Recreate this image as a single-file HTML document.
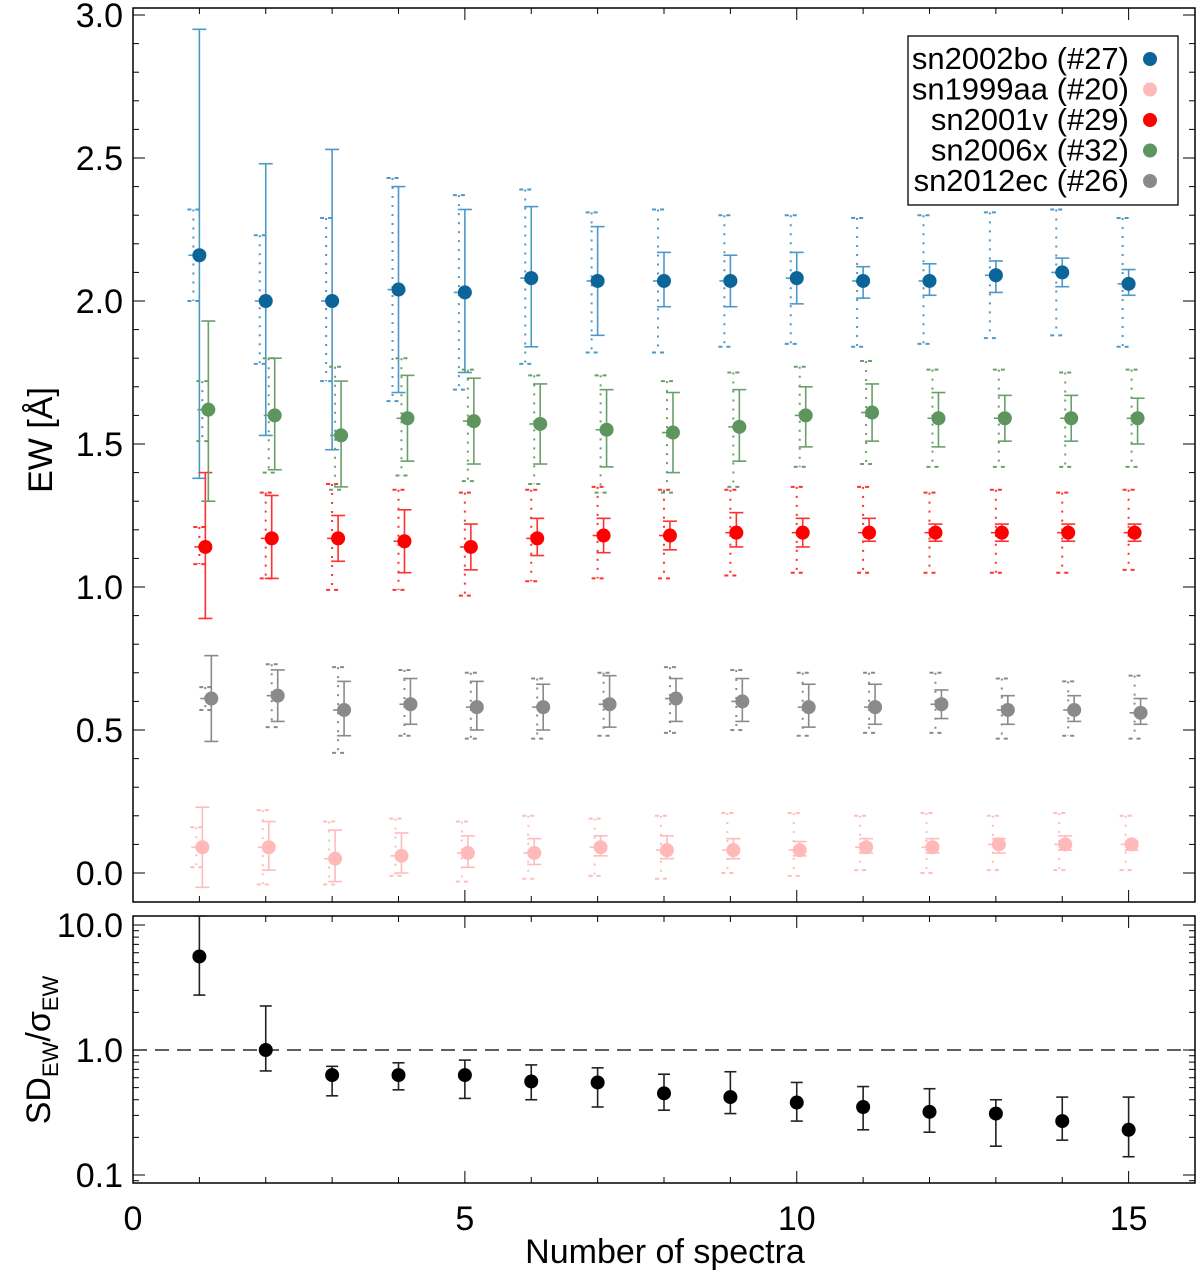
<!DOCTYPE html>
<html><head><meta charset="utf-8"><style>
body{margin:0;background:#fff}
svg{display:block;font-family:"Liberation Sans",sans-serif}
</style></head><body>
<svg id="chart" width="1200" height="1275" viewBox="0 0 1200 1275" xmlns="http://www.w3.org/2000/svg"></svg>
<script>
const N=[1,2,3,4,5,6,7,8,9,10,11,12,13,14,15];
const blueVal=[2.16,2.00,2.00,2.04,2.03,2.08,2.07,2.07,2.07,2.08,2.07,2.07,2.09,2.10,2.06];
const blueHi=[2.95,2.48,2.53,2.40,2.32,2.33,2.26,2.17,2.16,2.17,2.12,2.13,2.14,2.15,2.11];
const blueLo=[1.38,1.53,1.48,1.68,1.75,1.84,1.88,1.98,1.98,1.99,2.01,2.02,2.03,2.05,2.02];
const blueDHi=[2.32,2.23,2.29,2.43,2.37,2.39,2.31,2.32,2.30,2.30,2.29,2.30,2.31,2.32,2.29];
const blueDLo=[2.00,1.78,1.72,1.65,1.69,1.78,1.82,1.82,1.84,1.85,1.84,1.85,1.87,1.88,1.84];
const pinkVal=[0.09,0.09,0.05,0.06,0.07,0.07,0.09,0.08,0.08,0.08,0.09,0.09,0.10,0.10,0.10];
const pinkHi=[0.23,0.18,0.15,0.14,0.13,0.12,0.13,0.13,0.12,0.11,0.12,0.12,0.12,0.13,0.11];
const pinkLo=[-0.05,0.01,-0.03,0.00,0.02,0.03,0.06,0.05,0.05,0.06,0.07,0.07,0.07,0.08,0.08];
const pinkDHi=[0.16,0.22,0.18,0.19,0.18,0.20,0.19,0.20,0.21,0.21,0.20,0.21,0.20,0.21,0.20];
const pinkDLo=[0.02,-0.04,-0.04,-0.01,-0.03,-0.02,-0.01,-0.02,0.00,-0.01,0.01,0.00,0.01,0.01,0.01];
const redVal=[1.14,1.17,1.17,1.16,1.14,1.17,1.18,1.18,1.19,1.19,1.19,1.19,1.19,1.19,1.19];
const redHi=[1.40,1.32,1.25,1.27,1.22,1.24,1.24,1.23,1.26,1.24,1.24,1.22,1.22,1.22,1.22];
const redLo=[0.89,1.03,1.09,1.05,1.06,1.11,1.12,1.13,1.14,1.14,1.16,1.16,1.16,1.16,1.16];
const redDHi=[1.21,1.33,1.36,1.34,1.33,1.34,1.35,1.34,1.34,1.35,1.35,1.33,1.34,1.33,1.34];
const redDLo=[1.08,1.03,0.99,0.99,0.97,1.02,1.03,1.03,1.04,1.05,1.05,1.05,1.05,1.05,1.06];
const greenVal=[1.62,1.60,1.53,1.59,1.58,1.57,1.55,1.54,1.56,1.60,1.61,1.59,1.59,1.59,1.59];
const greenHi=[1.93,1.80,1.72,1.74,1.73,1.71,1.69,1.68,1.69,1.70,1.71,1.68,1.67,1.67,1.66];
const greenLo=[1.30,1.41,1.35,1.44,1.43,1.43,1.42,1.40,1.44,1.49,1.51,1.49,1.51,1.51,1.50];
const greenDHi=[1.72,1.80,1.77,1.80,1.76,1.74,1.74,1.72,1.75,1.77,1.79,1.76,1.76,1.75,1.76];
const greenDLo=[1.51,1.40,1.34,1.39,1.37,1.36,1.33,1.33,1.35,1.42,1.43,1.42,1.42,1.42,1.42];
const grayVal=[0.61,0.62,0.57,0.59,0.58,0.58,0.59,0.61,0.60,0.58,0.58,0.59,0.57,0.57,0.56];
const grayHi=[0.76,0.71,0.67,0.68,0.67,0.66,0.69,0.68,0.68,0.66,0.66,0.64,0.62,0.62,0.61];
const grayLo=[0.46,0.53,0.48,0.52,0.50,0.50,0.51,0.53,0.53,0.51,0.52,0.54,0.52,0.53,0.52];
const grayDHi=[0.65,0.73,0.72,0.71,0.70,0.68,0.70,0.72,0.71,0.70,0.70,0.70,0.68,0.67,0.69];
const grayDLo=[0.57,0.51,0.42,0.48,0.47,0.47,0.48,0.49,0.50,0.48,0.49,0.49,0.47,0.48,0.47];
const ratioVal=[5.6,1.0,0.63,0.63,0.63,0.56,0.55,0.45,0.42,0.38,0.35,0.32,0.31,0.27,0.23];
const ratioHi=[13,2.25,0.74,0.79,0.83,0.76,0.72,0.64,0.67,0.55,0.51,0.49,0.40,0.42,0.42];
const ratioLo=[2.75,0.68,0.43,0.48,0.41,0.40,0.35,0.33,0.31,0.27,0.23,0.22,0.17,0.19,0.14];
const seriesNames=["sn2002bo (#27)","sn1999aa (#20)","sn2001v (#29)","sn2006x (#32)","sn2012ec (#26)"];
const xTicks=[0,5,10,15];
const yTicks=["0.0","0.5","1.0","1.5","2.0","2.5","3.0"];
const logTicks=["0.1","1.0","10.0"];

const svg=document.getElementById('chart');
const NS='http://www.w3.org/2000/svg';
function mk(tag,at,parent){const e=document.createElementNS(NS,tag);for(const k in at)e.setAttribute(k,at[k]);(parent||svg).appendChild(e);return e;}
const L=133,R=1195,T1=8,B1=902,T2=916,B2=1183;
const X=v=>L+(v)*(R-L)/16;
const Y=v=>873-v*286;
const YL=v=>1050-Math.log10(v)*125;

const f1=mk('rect',{x:L,y:T1,width:R-L,height:B1-T1,fill:'none',stroke:'#000','stroke-width':1.5});

const f2=mk('rect',{x:L,y:T2,width:R-L,height:B2-T2,fill:'none',stroke:'#000','stroke-width':1.5});


for(let i=1;i<16;i++){const len=i%5==0?12:6;
 for(const [a,b] of [[B1,-1],[T1,1],[B2,-1],[T2,1]]) mk('line',{x1:X(i),x2:X(i),y1:a,y2:a+b*len,stroke:'#000','stroke-width':1});}
xTicks.forEach(t=>{const e=mk('text',{x:X(t),y:1230,'font-size':34,'text-anchor':'middle'});e.textContent=t;
 });
for(let k=0;k<=30;k++){const v=k/10;if(Y(v)<T1)continue;const len=k%5==0?12:6;
 mk('line',{x1:L,x2:L+len,y1:Y(v),y2:Y(v),stroke:'#000','stroke-width':1});
 mk('line',{x1:R,x2:R-len,y1:Y(v),y2:Y(v),stroke:'#000','stroke-width':1});}
yTicks.forEach(t=>{const e=mk('text',{x:123,y:Y(+t)+12,'font-size':34,'text-anchor':'end'});e.textContent=t;
 });
for(let d=-2;d<=1;d++)for(let m=1;m<10;m++){const v=m*Math.pow(10,d);const y=YL(v);if(y<T2||y>B2)continue;
 const len=m==1?12:6;
 mk('line',{x1:L,x2:L+len,y1:y,y2:y,stroke:'#000','stroke-width':1});
 mk('line',{x1:R,x2:R-len,y1:y,y2:y,stroke:'#000','stroke-width':1});}
logTicks.forEach(t=>{const e=mk('text',{x:123,y:YL(+t)+12,'font-size':34,'text-anchor':'end'});e.textContent=t;
 });
const dl=mk('line',{x1:L,x2:R,y1:YL(1),y2:YL(1),stroke:'#000','stroke-width':1.3,'stroke-dasharray':'14,8'});


let t=mk('text',{x:665,y:1263,'font-size':34,'text-anchor':'middle'});t.textContent='Number of spectra';

t=mk('text',{x:0,y:0,'font-size':34,'text-anchor':'middle',transform:'translate(52,440) rotate(-90)'});t.textContent='EW [Å]';

t=mk('text',{x:0,y:0,'font-size':34,'text-anchor':'middle',transform:'translate(50,1050) rotate(-90)'});
t.innerHTML='SD<tspan font-size="22" dy="8">EW</tspan><tspan dy="-8">/σ</tspan><tspan font-size="22" dy="8">EW</tspan>';


function bar(g,x,hi,lo,col,dotted,cap){
 const st={stroke:col,'stroke-width':dotted?2:1.6};if(dotted)st['stroke-dasharray']='2,7';
 mk('line',Object.assign({x1:x,x2:x,y1:hi,y2:lo},st),g);
 const cs={stroke:col,'stroke-width':dotted?2:1.6};if(dotted)cs['stroke-dasharray']='4,4';
 mk('line',Object.assign({x1:x-cap,x2:x+cap,y1:hi,y2:hi},cs),g);
 mk('line',Object.assign({x1:x-cap,x2:x+cap,y1:lo,y2:lo},cs),g);
}
const series=[
 {name:'sn2002bo',off:0,pt:'#0b6598',bc:'#4d98c6',v:blueVal,h:blueHi,l:blueLo,dh:blueDHi,dl:blueDLo},
 {name:'sn1999aa',off:0.045,pt:'#ffb9b9',bc:'#ffbcbc',v:pinkVal,h:pinkHi,l:pinkLo,dh:pinkDHi,dl:pinkDLo},
 {name:'sn2001v',off:0.09,pt:'#ff0000',bc:'#ff3030',v:redVal,h:redHi,l:redLo,dh:redDHi,dl:redDLo},
 {name:'sn2006x',off:0.135,pt:'#5e955e',bc:'#6a9f6a',v:greenVal,h:greenHi,l:greenLo,dh:greenDHi,dl:greenDLo},
 {name:'sn2012ec',off:0.18,pt:'#8a8a8a',bc:'#8a8a8a',v:grayVal,h:grayHi,l:grayLo,dh:grayDHi,dl:grayDLo}];
series.forEach(s=>{
 const g=mk('g',{});
 N.forEach((n,i)=>{
  const px=X(n+s.off);
  bar(g,px-6,Y(s.dh[i]),Y(s.dl[i]),s.bc,true,6);
  bar(g,px,Y(s.h[i]),Y(s.l[i]),s.bc,false,7);
  mk('line',{x1:px-11,x2:px,y1:Y(s.v[i]),y2:Y(s.v[i]),stroke:s.bc,'stroke-width':1.6},g);
  const c=mk('circle',{cx:px,cy:Y(s.v[i]),r:7,fill:s.pt},g);
  
 });
});
const rg=mk('g',{});
N.forEach((n,i)=>{const px=X(n);
 bar(rg,px,Math.max(T2,YL(ratioHi[i])),YL(ratioLo[i]),'#222',false,6);
 const c=mk('circle',{cx:px,cy:YL(ratioVal[i]),r:7,fill:'#000'},rg);
 });

const lg=mk('g',{});
mk('rect',{x:908,y:36,width:270,height:169,fill:'#fff',stroke:'#000','stroke-width':1.3},lg);
seriesNames.forEach((nm,i)=>{const y=59+i*30.5;
 const e=mk('text',{x:1129,y:y+10,'font-size':31,'text-anchor':'end'},lg);e.textContent=nm;
 
 mk('circle',{cx:1150,cy:y,r:7,fill:series[i].pt},lg);});
</script>
</body></html>
